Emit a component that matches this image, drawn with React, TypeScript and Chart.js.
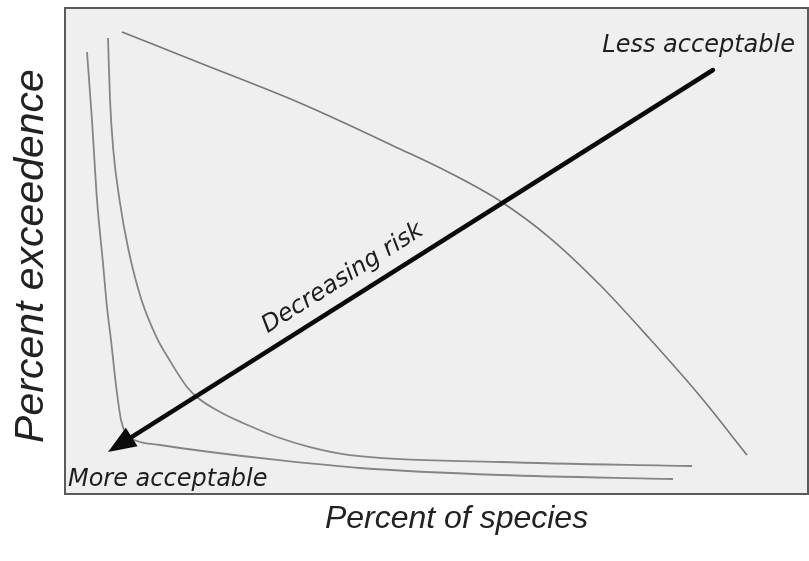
import React, { useEffect, useRef } from "react";
import { Chart, registerables } from "chart.js";

Chart.register(...registerables);

// ---- Data (percent of species vs percent exceedence) ----
const curveA_x = [2.96, 3.63, 4.31, 5.11, 5.65, 6.19, 6.86, 7.54, 8.21, 9.69, 12.79, 19.52, 28.53, 39.7, 58.55, 81.83];
const curveA_y = [90.95, 76.95, 60.49, 47.53, 38.48, 31.69, 22.43, 15.23, 12.35, 10.91, 10.08, 8.64, 7.0, 5.35, 3.91, 3.09];

const curveB_x = [5.79, 6.06, 6.5, 7.34, 8.55, 10.3, 12.31, 14.06, 16.42, 17.9, 20.86, 23.96, 28.53, 32.97, 38.36, 58.55, 84.39];
const curveB_y = [93.83, 81.07, 70.78, 60.49, 50.21, 39.92, 32.3, 27.57, 22.02, 19.75, 16.87, 14.61, 11.73, 9.67, 8.02, 6.58, 5.76];

const curveC_x = [7.67, 18.17, 31.63, 45.09, 51.82, 58.55, 65.28, 72.01, 78.73, 85.46, 91.79];
const curveC_y = [95.06, 88.68, 80.45, 70.99, 66.05, 60.29, 52.67, 43.0, 31.89, 20.16, 8.02];

// Arrow (data coordinates): from "less acceptable" corner towards "more acceptable"
const arrowFrom = [87.21, 87.24];
const arrowTo = [5.79, 8.64];

// Annotation labels and anchors (data coordinates)
const labelLess = "Less acceptable";
const labelLessPos = [98.25, 91.0];
const labelMore = "More acceptable";
const labelMorePos = [0.4, 1.7];
const labelRisk = "Decreasing risk";
const labelRiskPos = [37.82, 43.3];

const xTitle = "Percent of species";
const yTitle = "Percent exceedence";

const toPoints = (xs: number[], ys: number[]) => xs.map((x, i) => ({ x, y: ys[i] }));

const decorPlugin = {
  id: "decor",
  beforeDatasetsDraw(chart: any) {
    const { ctx, chartArea: a } = chart;
    ctx.save();
    ctx.fillStyle = "#efefef";
    ctx.fillRect(a.left, a.top, a.right - a.left, a.bottom - a.top);
    ctx.restore();
  },
  afterDatasetsDraw(chart: any) {
    const { ctx, chartArea: a } = chart;
    const xs = chart.scales.x;
    const ys = chart.scales.y;
    const px = (v: number) => xs.getPixelForValue(v);
    const py = (v: number) => ys.getPixelForValue(v);

    // Arrow
    const x1 = px(arrowFrom[0]);
    const y1 = py(arrowFrom[1]);
    const x2 = px(arrowTo[0]);
    const y2 = py(arrowTo[1]);
    const ang = Math.atan2(y2 - y1, x2 - x1);
    const headLen = 28;
    const headW = 11;
    const bx = x2 - headLen * Math.cos(ang);
    const by = y2 - headLen * Math.sin(ang);
    ctx.save();
    ctx.strokeStyle = "#0a0a0a";
    ctx.fillStyle = "#0a0a0a";
    ctx.lineWidth = 4.5;
    ctx.lineCap = "round";
    ctx.beginPath();
    ctx.moveTo(x1, y1);
    ctx.lineTo(bx + 4 * Math.cos(ang), by + 4 * Math.sin(ang));
    ctx.stroke();
    ctx.beginPath();
    ctx.moveTo(x2, y2);
    ctx.lineTo(bx + headW * Math.sin(ang), by - headW * Math.cos(ang));
    ctx.lineTo(bx - headW * Math.sin(ang), by + headW * Math.cos(ang));
    ctx.closePath();
    ctx.fill();

    // Annotation texts
    ctx.fillStyle = "#1e1e1e";
    ctx.font = 'italic 24px "DejaVu Sans"';
    ctx.textBaseline = "alphabetic";
    ctx.textAlign = "right";
    ctx.fillText(labelLess, px(labelLessPos[0]), py(labelLessPos[1]));
    ctx.textAlign = "left";
    ctx.fillText(labelMore, px(labelMorePos[0]), py(labelMorePos[1]));

    ctx.save();
    ctx.translate(px(labelRiskPos[0]), py(labelRiskPos[1]));
    ctx.rotate(Math.atan2(y1 - y2, x1 - x2));
    ctx.textAlign = "center";
    ctx.fillText(labelRisk, 0, 0);
    ctx.restore();

    // Plot frame
    ctx.strokeStyle = "#5a5a5a";
    ctx.lineWidth = 2;
    ctx.strokeRect(a.left, a.top, a.right - a.left, a.bottom - a.top);
    ctx.restore();
  },
  afterDraw(chart: any) {
    const { ctx, chartArea: a } = chart;
    ctx.save();
    ctx.fillStyle = "#222";
    ctx.textBaseline = "alphabetic";
    ctx.textAlign = "center";
    ctx.font = 'italic 32px "Liberation Sans"';
    ctx.fillText(xTitle, (a.left + a.right) / 2 + 20, a.bottom + 34);
    ctx.font = 'italic 41px "Liberation Sans"';
    ctx.translate(a.left - 22, (a.top + a.bottom) / 2 + 5);
    ctx.rotate(-Math.PI / 2);
    ctx.fillText(yTitle, 0, 0);
    ctx.restore();
  },
};

export default function App() {
  const canvasRef = useRef<HTMLCanvasElement | null>(null);

  useEffect(() => {
    if (!canvasRef.current) return;
    const lineStyle = {
      pointRadius: 0,
      pointHoverRadius: 0,
      fill: false,
      cubicInterpolationMode: "monotone" as const,
    };
    const chart = new Chart(canvasRef.current, {
      type: "line",
      data: {
        datasets: [
          { ...lineStyle, label: "A", data: toPoints(curveA_x, curveA_y), borderColor: "#858585", borderWidth: 1.8 },
          { ...lineStyle, label: "B", data: toPoints(curveB_x, curveB_y), borderColor: "#858585", borderWidth: 1.8 },
          { ...lineStyle, label: "C", data: toPoints(curveC_x, curveC_y), borderColor: "#777777", borderWidth: 1.6 },
        ],
      },
      options: {
        animation: false,
        responsive: false,
        devicePixelRatio: 1,
        layout: { padding: { left: 65, top: 8, right: 1, bottom: 67 } },
        plugins: { legend: { display: false }, tooltip: { enabled: false } },
        events: [],
        scales: {
          x: { type: "linear", min: 0, max: 100, display: false },
          y: { type: "linear", min: 0, max: 100, display: false },
        },
      },
      plugins: [decorPlugin],
    });
    return () => chart.destroy();
  }, []);

  return (
    <div style={{ position: "fixed", left: 0, top: 0, width: 809, height: 561, background: "#fff" }}>
      <canvas ref={canvasRef} width={809} height={561} style={{ width: 809, height: 561, display: "block" }} />
    </div>
  );
}
